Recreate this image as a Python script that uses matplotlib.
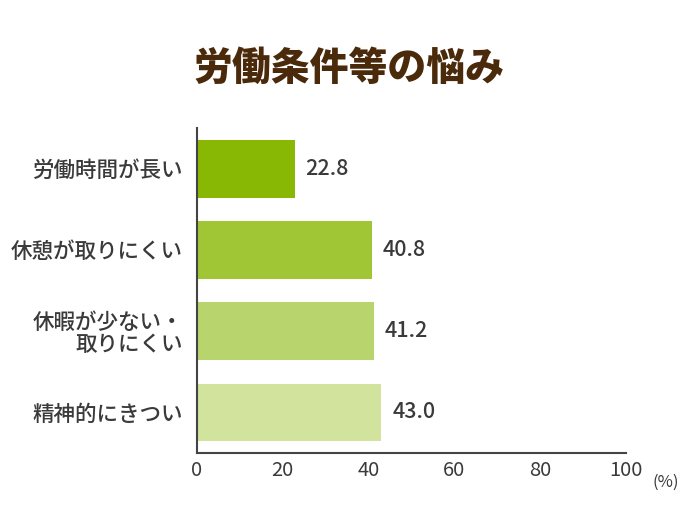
import matplotlib
matplotlib.use("Agg")
import matplotlib.pyplot as plt

plt.rcParams['font.family'] = ['Noto Sans CJK JP', 'DejaVu Sans']

# data (top to bottom)
categories = ['労働時間が長い', '休憩が取りにくい', '休暇が少ない・\n取りにくい', '精神的にきつい']
values = [22.8, 40.8, 41.2, 43.0]
bar_colors = ['#88b804', '#a0c636', '#b7d56c', '#d1e39c']
xticks = [0, 20, 40, 60, 80, 100]

text_color = '#3a3a3a'

fig = plt.figure(figsize=(7, 5.25), dpi=100)
ax = fig.add_axes([0.2814, 0.137, 0.6129, 0.619])

pos = list(range(len(categories)))
ax.barh(pos, values, height=0.71, color=bar_colors)

for p, v in zip(pos, values):
    ax.text(v + 2.5, p, f'{v:.1f}', va='center', ha='left',
            fontsize=15.5, color=text_color, fontweight='medium')

ax.set_ylim(3.5, -0.5)
ax.set_xlim(0, 100)
ax.set_yticks(pos)
ax.set_yticklabels(categories, fontsize=15.5, color=text_color,
                   fontweight='medium', linespacing=1.0)
ax.set_xticks(xticks)
ax.set_xticklabels([str(t) for t in xticks], fontsize=14.5, color=text_color)
ax.tick_params(axis='both', length=0)
ax.tick_params(axis='y', pad=10)
ax.tick_params(axis='x', pad=5)

for s in ['top', 'right']:
    ax.spines[s].set_visible(False)
for s in ['left', 'bottom']:
    ax.spines[s].set_color('#444444')
    ax.spines[s].set_linewidth(1.5)

fig.text(666 / 700, 1 - 482 / 525, '(%)', fontsize=12, color=text_color,
         ha='center', va='center')

fig.text(349 / 700, 1 - 68 / 525, '労働条件等の悩み', fontsize=28, fontweight='heavy',
         color='#4a2a0a', ha='center', va='center')

fig.savefig('out.png', dpi=100)
